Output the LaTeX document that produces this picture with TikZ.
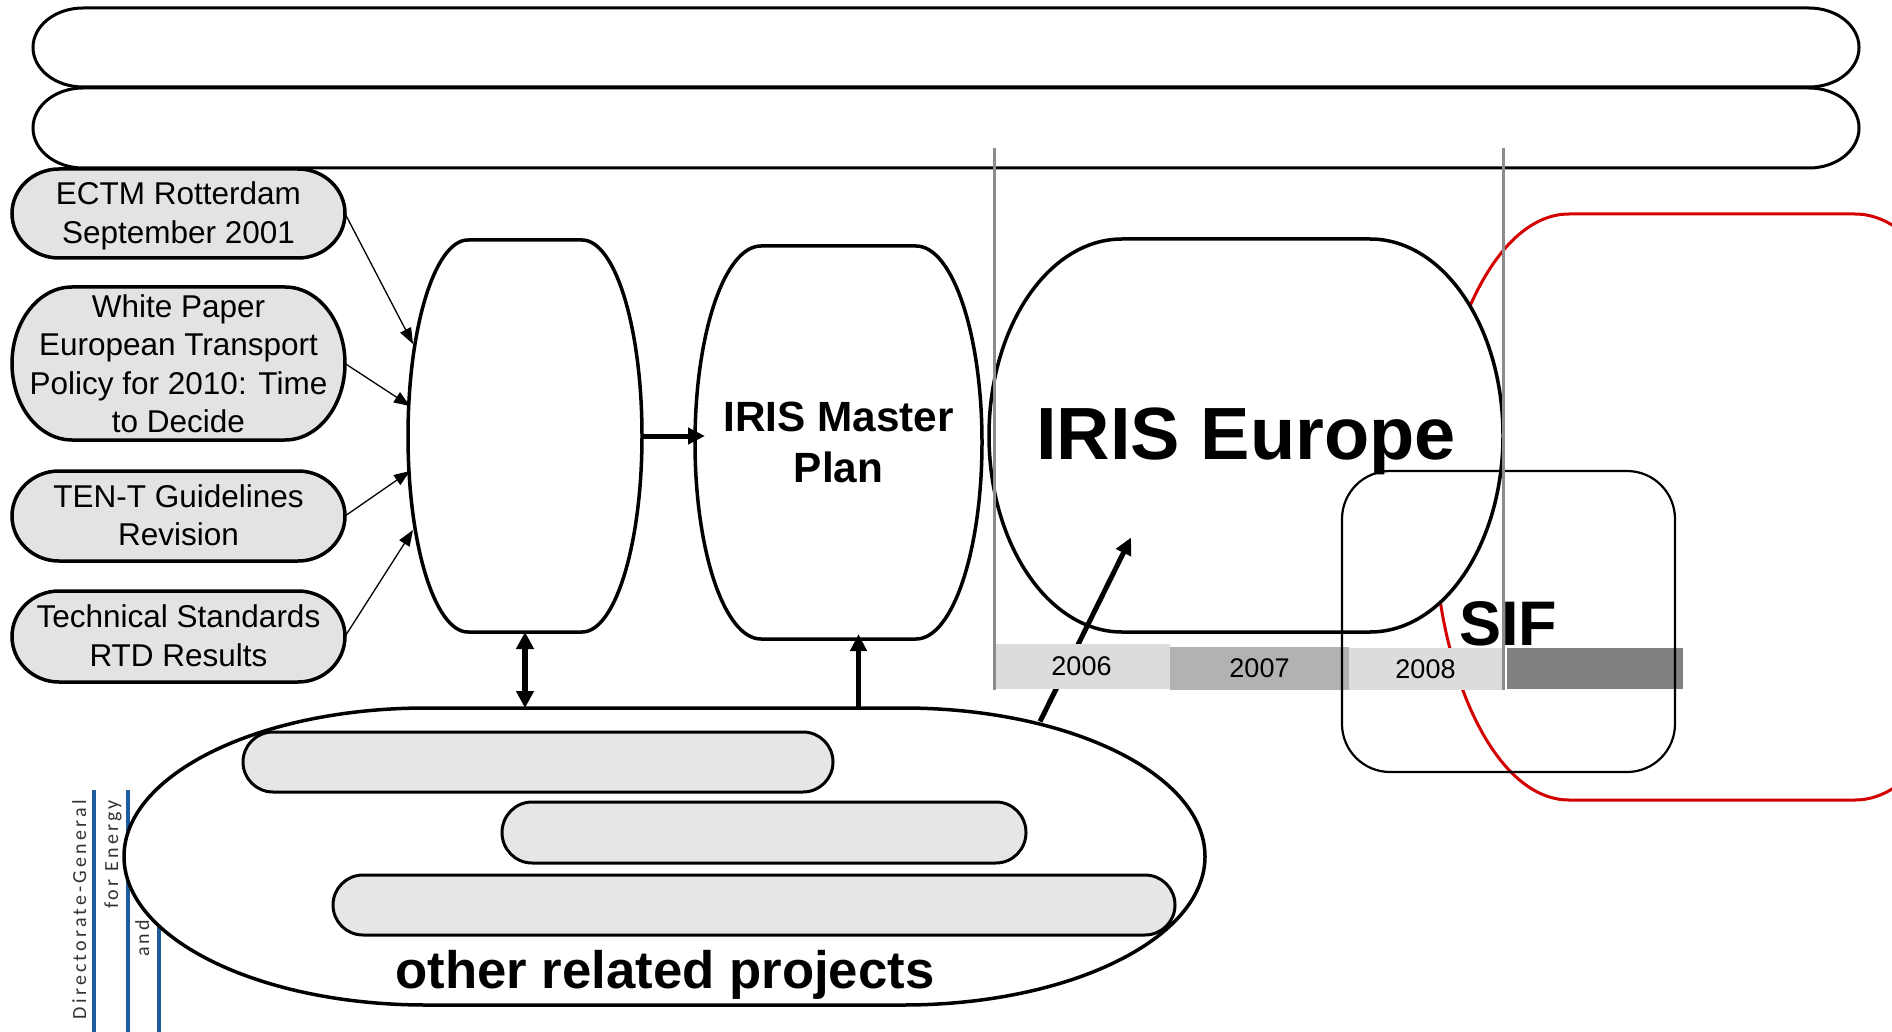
\documentclass[tikz,border=0pt]{standalone}
\usepackage{fontspec}
\setmainfont{Liberation Sans}
\newfontfamily\dgfont[LetterSpace=16]{Carlito}
\usetikzlibrary{arrows.meta,calc}
\definecolor{boxgray}{HTML}{E3E3E3}
\definecolor{pillgray}{HTML}{E6E6E6}
\definecolor{lbar}{HTML}{DCDCDC}
\definecolor{mbar}{HTML}{B2B2B2}
\definecolor{dbar}{HTML}{808080}
\definecolor{vline}{HTML}{8C8C8C}
\definecolor{redline}{HTML}{D40000}
\definecolor{dgblue}{HTML}{1F5C9E}
\definecolor{dgtext}{HTML}{333333}
% elliptic-cornered box drawn around a holder node
\newcommand\eshape[4][]{%
  \path[#1] ([xshift=#3]#2.north west) -- ([xshift=-#3]#2.north east)
    arc[start angle=90,end angle=0,x radius=#3,y radius=#4]
    -- ([yshift=#4]#2.south east)
    arc[start angle=0,end angle=-90,x radius=#3,y radius=#4]
    -- ([xshift=#3]#2.south west)
    arc[start angle=270,end angle=180,x radius=#3,y radius=#4]
    -- ([yshift=-#4]#2.north west)
    arc[start angle=180,end angle=90,x radius=#3,y radius=#4] -- cycle;}
\begin{document}
\begin{tikzpicture}[x=1pt,y=-1pt,
  holder/.style={draw=none,inner sep=0pt,outer sep=0pt,rectangle},
  outline/.style={draw=black,line width=3.5pt,fill=white},
  grayshape/.style={draw=black,line width=3.5pt,fill=boxgray},
  pillshape/.style={draw=black,line width=3pt,fill=pillgray},
  lbl/.style={inner sep=0pt,align=center,font=\fontsize{31.5}{38.5}\selectfont},
  yearbar/.style={inner sep=0pt,outer sep=0pt,draw=none,font=\fontsize{27}{30}\selectfont},
  thinarrow/.style={line width=1.3pt,-{Triangle[length=16pt,width=12pt]}},
  thickarrow/.style={line width=5pt,-{Triangle[length=17pt,width=16pt]}},
  dblarrow/.style={line width=6pt,{Triangle[length=17pt,width=17pt]}-{Triangle[length=17pt,width=17pt]}},
  gline/.style={draw=vline,line width=3pt},
  dgline/.style={draw=dgblue,line width=3.5pt},
  dglabel/.style={rotate=90,inner sep=0pt,text=dgtext,font=\dgfont\fontsize{20}{22}\selectfont}]
\useasboundingbox (0,0) rectangle (1892,1032);
\clip (0,0) rectangle (1892,1032);

% top pills
\node[holder,minimum width=1826pt,minimum height=79pt] (p1) at (946,47.5) {};
\node[holder,minimum width=1826pt,minimum height=80pt] (p2) at (946,128) {};
\eshape[draw=black,line width=3pt,fill=white]{p1}{50pt}{39.5pt}
\eshape[draw=black,line width=3pt,fill=white]{p2}{50pt}{40pt}

% left gray boxes
\node[holder,minimum width=333pt,minimum height=89pt] (ectm) at (178.5,213.5) {};
\node[holder,minimum width=333pt,minimum height=153pt] (white) at (178.5,363.5) {};
\node[holder,minimum width=333pt,minimum height=90pt] (tent) at (178.5,516) {};
\node[holder,minimum width=333pt,minimum height=91pt] (tech) at (178.5,636.5) {};
\eshape[grayshape]{ectm}{47pt}{44.5pt}
\eshape[grayshape]{white}{60pt}{76.5pt}
\eshape[grayshape]{tent}{47pt}{45pt}
\eshape[grayshape]{tech}{47pt}{45.5pt}
\node[lbl] (ectmT) at ([yshift=-2.5pt]ectm.center) {ECTM Rotterdam\\September 2001};
\node[lbl] (whiteT) at (white) {White Paper\\European Transport\\Policy for 2010: Time\\to Decide};
\node[lbl] (tentT) at ([yshift=1pt]tent.center) {TEN-T Guidelines\\Revision};
\node[lbl] (techT) at ([yshift=1pt]tech.center) {Technical Standards\\RTD Results};

% Directorate-General mark (partly hidden)
\coordinate (b1t) at (94,790);  \coordinate (b1b) at (94,1032);
\coordinate (b2t) at (128,790); \coordinate (b2b) at (128,1032);
\coordinate (b3t) at (159,790); \coordinate (b3b) at (159,1032);
\draw[dgline] (b1t) -- (b1b);
\draw[dgline] (b2t) -- (b2b);
\draw[dgline] (b3t) -- (b3b);
\node[dglabel,anchor=base east] (dg1) at (86,800) {Directorate-General};
\node[dglabel,anchor=base east] (dg2) at (118,800) {for Energy};
\node[dglabel,anchor=base west] (dg3) at (149,957) {and};

% red outline
\node[holder,minimum width=558pt,minimum height=586pt] (redbox) at (1712,507) {};
\eshape[draw=redline,line width=3pt]{redbox}{136pt}{293pt}

% main process boxes
\node[holder,minimum width=234pt,minimum height=392pt] (a) at (525,436) {};
\node[holder,minimum width=287pt,minimum height=393pt] (mp) at (838.5,442.5) {};
\node[holder,minimum width=514pt,minimum height=393pt] (ie) at (1246,435.5) {};
\eshape[outline]{a}{60pt}{196pt}
\eshape[outline]{mp}{66pt}{196.5pt}
\eshape[outline]{ie}{133pt}{196.5pt}

% other related projects
\node[holder,minimum width=1081pt,minimum height=297pt] (orp) at (664.5,856.5) {};
\eshape[outline]{orp}{302pt}{148.5pt}
\node[holder,minimum width=590pt,minimum height=60pt] (ip1) at (538,762) {};
\node[holder,minimum width=524pt,minimum height=61pt] (ip2) at (764,832.5) {};
\node[holder,minimum width=842pt,minimum height=60pt] (ip3) at (754,905) {};
\eshape[pillshape]{ip1}{30pt}{30pt}
\eshape[pillshape]{ip2}{30pt}{30.5pt}
\eshape[pillshape]{ip3}{30pt}{30pt}
\node[anchor=base,inner sep=0pt,font=\bfseries\fontsize{52.7}{60}\selectfont] (orpT) at (665,988) {other related projects};

% connectors
\draw[thinarrow] (ectm.east) -- ([xshift=5pt,yshift=92pt]a.west);
\draw[thinarrow] (white.east) -- ([xshift=2pt,yshift=30pt]a.west);
\draw[thinarrow] (tent.east) -- ([xshift=2pt,yshift=-35pt]a.west);
\draw[thinarrow] (tech.east) -- ([xshift=5pt,yshift=-94pt]a.west);
\draw[thickarrow,shorten >=-10pt] (a.east) -- (a.east -| mp.west);
\draw[dblarrow] (a.south) -- (a.south |- orp.north);
\draw[thickarrow,line width=5.5pt] ([xshift=20pt]mp.south |- orp.north) -- ([xshift=20pt,yshift=5pt]mp.south);
\draw[thickarrow,line width=5pt] ([xshift=375.5pt,yshift=135pt]orp.center) -- ([xshift=-115pt,yshift=-102pt]ie.center);

% timeline bars
\node[yearbar,fill=lbar,minimum width=177pt,minimum height=45pt] (y2006) at (1081.5,666.5) {2006};
\node[yearbar,fill=mbar,minimum width=179pt,minimum height=43pt] (y2007) at (1259.5,668.5) {2007};
\node[yearbar,fill=lbar,minimum width=153pt,minimum height=42pt] (y2008) at (1425.5,669) {2008};
\node[yearbar,fill=dbar,minimum width=176pt,minimum height=41pt] (ydark) at (1595,668.5) {};

% SIF
\node[draw=black,line width=2.2pt,rounded corners=48pt,minimum width=333pt,minimum height=301pt,inner sep=0pt] (sif) at (1508.5,621.5) {};
\node[anchor=base,inner sep=0pt,font=\bfseries\fontsize{63}{70}\selectfont] (sifT) at (1508,645) {SIF};

% grey year separators
\coordinate (g1t) at (994,148);  \coordinate (g1b) at (994,690);
\coordinate (g2t) at (1503,148); \coordinate (g2b) at (1503,690);
\draw[gline] (g1t) -- (g1b);
\draw[gline] (g2t) -- (g2b);

% titles
\node[inner sep=0pt,align=center,font=\bfseries\fontsize{42.3}{51}\selectfont] (mpT) at (mp) {IRIS Master\\Plan};
\node[inner sep=0pt,font=\bfseries\fontsize{74}{80}\selectfont] (ieT) at ([yshift=-6pt]ie.center) {IRIS Europe};
\end{tikzpicture}
\end{document}
